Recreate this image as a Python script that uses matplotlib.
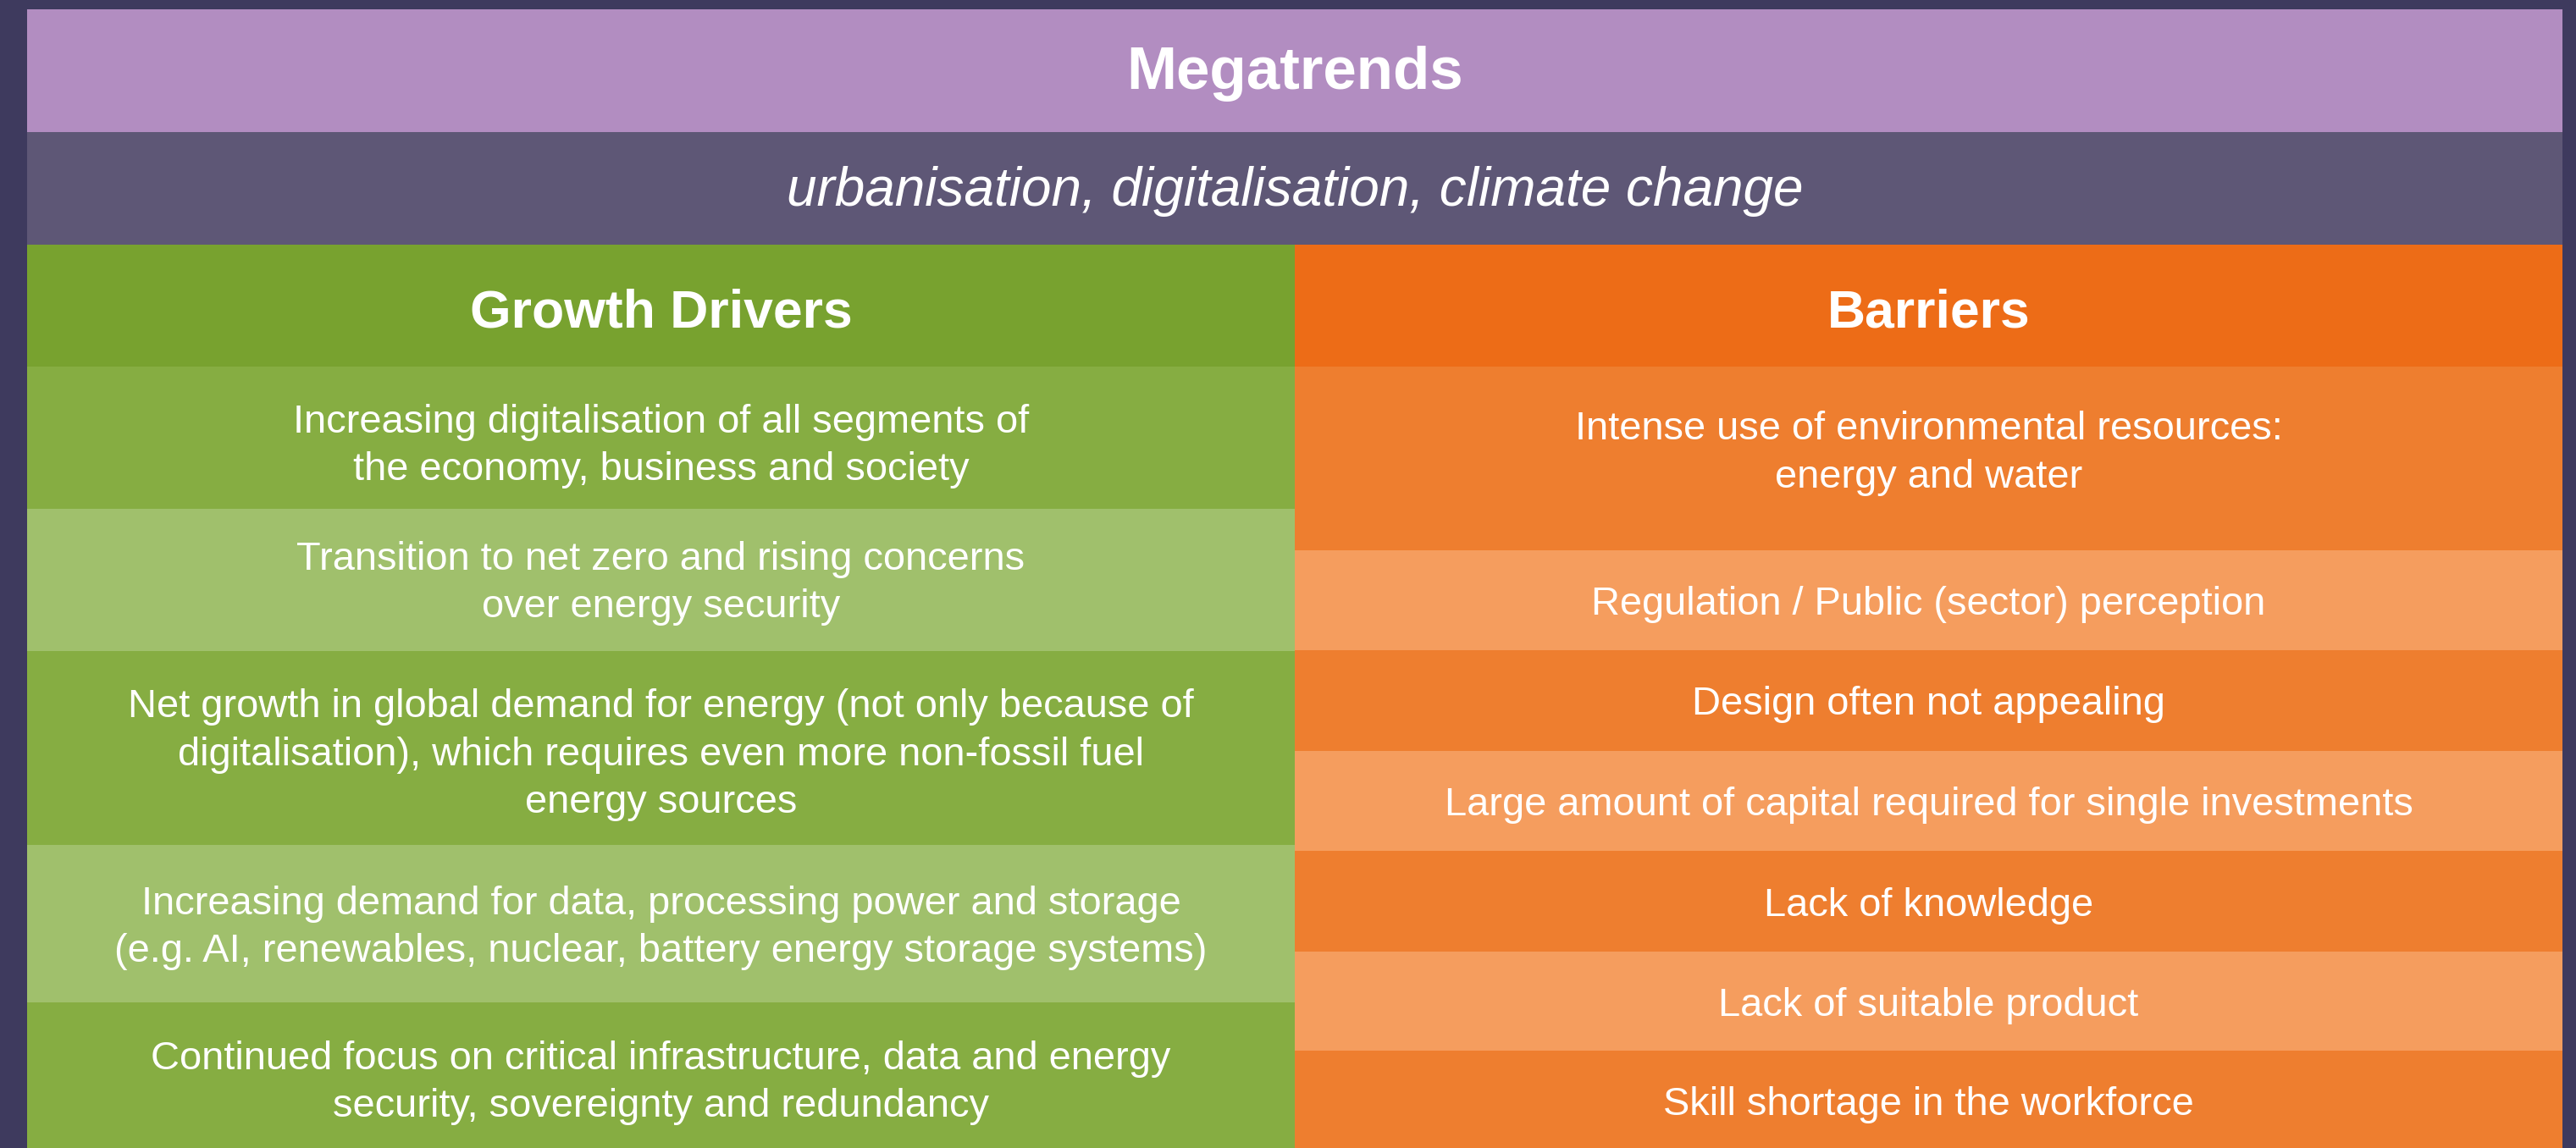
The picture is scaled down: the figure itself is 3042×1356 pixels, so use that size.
import matplotlib
matplotlib.use("Agg")
import matplotlib.pyplot as plt
import numpy as np

# ---- content ----
title = "Megatrends"
subtitle = "urbanisation, digitalisation, climate change"
left_header = "Growth Drivers"
right_header = "Barriers"
drivers = [
    "Increasing digitalisation of all segments of\nthe economy, business and society",
    "Transition to net zero and rising concerns\nover energy security",
    "Net growth in global demand for energy (not only because of\ndigitalisation), which requires even more non-fossil fuel\nenergy sources",
    "Increasing demand for data, processing power and storage\n(e.g. AI, renewables, nuclear, battery energy storage systems)",
    "Continued focus on critical infrastructure, data and energy\nsecurity, sovereignty and redundancy",
]
barriers = [
    "Intense use of environmental resources:\nenergy and water",
    "Regulation / Public (sector) perception",
    "Design often not appealing",
    "Large amount of capital required for single investments",
    "Lack of knowledge",
    "Lack of suitable product",
    "Skill shortage in the workforce",
]

# ---- layout (pixels) ----
W, H = 3042, 1356
x0, xs, x1 = 32, 1529, 3026
y_title, y_sub, y_head, y_rows = 11, 156, 289, 433
left_heights = [168, 168, 229, 186, 186]
right_heights = [217, 118, 119, 118, 119, 117, 118]

BG = "#3e3a5e"
PURPLE = "#b28dc1"
SLATE = "#5e5776"
GREEN_H = "#78a22f"
GREEN = "#86ad42"
GREEN_L = "#a0c06c"
ORANGE_H = "#ed6c17"
ORANGE = "#ee7e2f"
ORANGE_L = "#f59d5e"

body_font = ["Liberation Sans", "DejaVu Sans"]
head_font = ["Liberation Sans", "DejaVu Sans"]

fig = plt.figure(figsize=(W / 100, H / 100), dpi=100, facecolor=BG)
ax = fig.add_axes([0, 0, 1, 1])
ax.set_xlim(0, W)
ax.set_ylim(H, 0)
ax.axis("off")
ax.set_facecolor(BG)

def band(xa, xb, ya, yb, color):
    ax.bar((xa + xb) / 2, yb - ya, bottom=ya, width=xb - xa, color=color,
           linewidth=0, align="center")

# top bands
band(x0, x1, y_title, y_sub, PURPLE)
ax.text((x0 + x1) / 2, (y_title + y_sub) / 2 + 3, title, ha="center", va="center",
        color="white", fontsize=51, fontweight="bold", family=head_font)
band(x0, x1, y_sub, y_head, SLATE)
ax.text((x0 + x1) / 2, (y_sub + y_head) / 2 + 3, subtitle, ha="center", va="center",
        color="white", fontsize=46, fontstyle="italic", family=head_font)

# column headers
band(x0, xs, y_head, y_rows, GREEN_H)
band(xs, x1, y_head, y_rows, ORANGE_H)
ax.text((x0 + xs) / 2, (y_head + y_rows) / 2 + 9, left_header, ha="center", va="center",
        color="white", fontsize=45, fontweight="bold", family=head_font)
ax.text((xs + x1) / 2, (y_head + y_rows) / 2 + 9, right_header, ha="center", va="center",
        color="white", fontsize=45, fontweight="bold", family=head_font)

# rows
def rows(texts, heights, xa, xb, c1, c2, yoff):
    bottoms = y_rows + np.concatenate([[0], np.cumsum(heights)[:-1]])
    for i, (t, h, b) in enumerate(zip(texts, heights, bottoms)):
        band(xa, xb, b, b + h, c1 if i % 2 == 0 else c2)
        ax.text((xa + xb) / 2, b + h / 2 + yoff[i], t, ha="center", va="center",
                color="white", fontsize=33.8, family=body_font, linespacing=1.36)

rows(drivers, left_heights, x0, xs, GREEN, GREEN_L, [10, 4, 8, 5, 2])
rows(barriers, right_heights, xs, x1, ORANGE, ORANGE_L, [-6, 5, 5, 5, 5, 5, 5])

fig.savefig("out.png", dpi=100, facecolor=BG)
